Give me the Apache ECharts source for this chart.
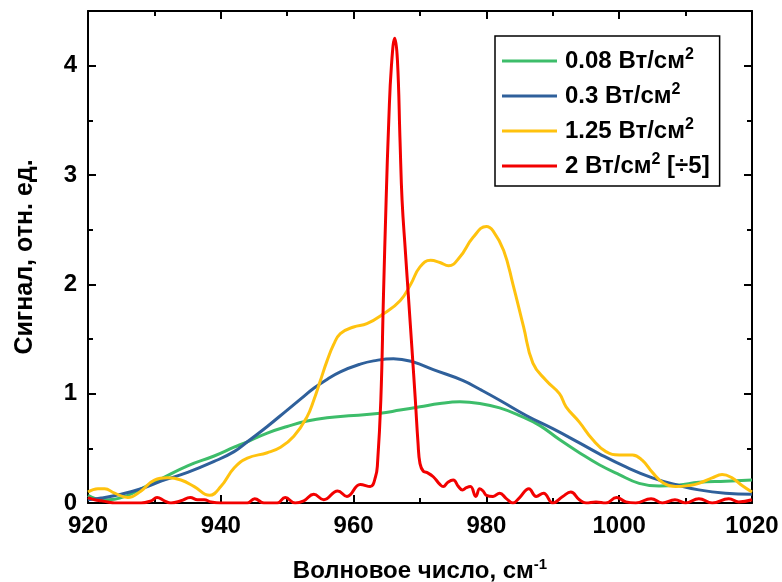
<!DOCTYPE html>
<html>
<head>
<meta charset="utf-8">
<script src="https://cdn.jsdelivr.net/npm/echarts@6/dist/echarts.min.js"></script>
<style>
html,body{margin:0;padding:0;background:#fff;}
#chart{width:782px;height:582px;}
</style>
</head>
<body>
<div id="chart"></div>
<script>
// ---- data ----
const seriesNames = ['0.08 Вт/см2', '0.3 Вт/см2', '1.25 Вт/см2', '2 Вт/см2 [÷5]'];
const xTicks = [920, 940, 960, 980, 1000, 1020];
const yTicks = [0, 1, 2, 3, 4];

const xGreen = [920, 922, 924, 926, 928, 931, 935, 939, 942, 944, 947, 950, 953, 956, 960, 964, 967, 970, 973, 976, 979, 982, 985, 988, 991, 994, 997, 1000, 1003, 1006, 1009, 1012, 1016, 1020];
const yGreen = [0.07, 0.03, 0.035, 0.07, 0.13, 0.22, 0.34, 0.43, 0.51, 0.56, 0.64, 0.70, 0.75, 0.78, 0.80, 0.82, 0.85, 0.88, 0.91, 0.925, 0.91, 0.87, 0.80, 0.71, 0.58, 0.46, 0.35, 0.26, 0.18, 0.155, 0.165, 0.19, 0.20, 0.21];

const xBlue = [920, 922, 925, 928, 931, 935, 939, 942, 944, 947, 950, 952, 954, 956, 958, 961, 963, 966, 969, 972, 976.5, 979, 982, 986, 990, 994, 997, 1001, 1005, 1009, 1012, 1016, 1020];
const yBlue = [0.03, 0.045, 0.08, 0.13, 0.20, 0.28, 0.38, 0.47, 0.56, 0.70, 0.85, 0.95, 1.05, 1.13, 1.20, 1.27, 1.30, 1.32, 1.29, 1.22, 1.12, 1.04, 0.94, 0.80, 0.68, 0.55, 0.45, 0.33, 0.23, 0.16, 0.12, 0.09, 0.08];

const xYellow = [920, 921.5, 922.5, 924, 926, 928, 930, 932, 934, 936, 938.3, 940, 942, 944, 947, 949, 951, 953, 954, 955, 956, 957, 958, 960, 962, 964.5, 967, 968.6, 970, 971.6, 973, 974.3, 976, 978, 980, 981, 982.6, 984, 985.6, 987, 989, 991, 992, 994, 996, 998, 1000, 1002, 1003.5, 1005, 1006.7, 1008.5, 1010.5, 1012, 1014, 1015.5, 1017, 1018.5, 1020];
const yYellow = [0.10, 0.13, 0.13, 0.09, 0.05, 0.11, 0.21, 0.23, 0.21, 0.15, 0.07, 0.15, 0.32, 0.41, 0.46, 0.51, 0.61, 0.79, 0.94, 1.12, 1.30, 1.45, 1.55, 1.61, 1.64, 1.73, 1.85, 2.00, 2.16, 2.22, 2.20, 2.17, 2.25, 2.43, 2.53, 2.49, 2.31, 2.00, 1.61, 1.28, 1.12, 1.00, 0.88, 0.74, 0.58, 0.47, 0.44, 0.44, 0.39, 0.28, 0.18, 0.15, 0.16, 0.18, 0.23, 0.26, 0.23, 0.16, 0.10];

const xRed = [920, 921, 922, 923, 924, 926, 928, 929.5, 930.4, 931.5, 932.5, 934, 935.4, 936.5, 937.5, 938.5, 940, 942, 944, 945.1, 946.5, 948.5, 949.7, 951.2, 952.5, 954, 955.5, 957.6, 959, 961, 962.5, 963.3, 963.6, 964.1, 964.5, 964.9, 965.3, 965.7, 966.2, 966.6, 967, 967.3, 967.8, 968.3, 968.8, 969.3, 969.7, 970, 970.5, 971, 972, 973, 973.5, 974.2, 975, 975.8, 976.4, 977, 977.6, 978.4, 979, 979.5, 980, 981, 982, 983, 984, 985, 986.4, 987.5, 988.6, 990, 991.5, 992.7, 994, 995, 996.5, 998, 999.6, 1001, 1002.5, 1004.8, 1006.5, 1008.4, 1010, 1012, 1014, 1016.5, 1018, 1020];
const yRed = [0.05, 0.03, 0.02, 0.01, 0.0, 0.0, 0.0, 0.02, 0.05, 0.02, 0.0, 0.02, 0.05, 0.03, 0.03, 0.01, 0.0, 0.0, 0.0, 0.04, 0.0, 0.0, 0.05, 0.0, 0.02, 0.08, 0.03, 0.11, 0.06, 0.17, 0.15, 0.24, 0.36, 0.94, 1.9, 2.77, 3.5, 4.0, 4.25, 4.05, 3.3, 2.77, 2.3, 1.85, 1.4, 0.94, 0.55, 0.36, 0.29, 0.28, 0.24, 0.17, 0.15, 0.19, 0.21, 0.15, 0.12, 0.14, 0.15, 0.06, 0.13, 0.11, 0.07, 0.06, 0.09, 0.04, 0.0, 0.05, 0.13, 0.06, 0.09, 0.0, 0.06, 0.10, 0.03, 0.0, 0.01, 0.0, 0.05, 0.01, 0.0, 0.04, 0.0, 0.03, 0.0, 0.04, 0.0, 0.04, 0.01, 0.03];

const colors = ['#3dbd6a', '#2f609b', '#ffc20e', '#f20000'];

// ---- build ----
const FONT = '"Liberation Sans", Arial, Helvetica, sans-serif';
function pairs(xs, ys) { return xs.map((x, i) => [x, ys[i]]); }
const xsAll = [xGreen, xBlue, xYellow, xRed];
const ysAll = [yGreen, yBlue, yYellow, yRed];

const series = seriesNames.map((name, i) => ({
  name: name,
  type: 'line',
  data: pairs(xsAll[i], ysAll[i]),
  smooth: 0.45,
  showSymbol: false,
  clip: true,
  xAxisIndex: 0,
  yAxisIndex: 0,
  lineStyle: { color: colors[i], width: 3 },
  itemStyle: { color: colors[i] },
  z: 2 + i
}));

const axisLineStyle = { show: true, onZero: false, lineStyle: { color: '#000', width: 2 } };
const supRich = {
  sup: { fontSize: 15, fontWeight: 'bold', fontFamily: FONT, color: '#000', verticalAlign: 'top', lineHeight: 14 }
};

const chart = echarts.init(document.getElementById('chart'), null, { renderer: 'canvas' });
chart.setOption({
  animation: false,
  backgroundColor: '#fff',
  color: colors,
  grid: { left: 88, right: 30, top: 11, bottom: 79, containLabel: false, outerBoundsMode: 'none' },
  legend: {
    orient: 'vertical',
    left: 495,
    top: 36,
    data: seriesNames,
    icon: 'rect',
    itemWidth: 55,
    itemHeight: 3,
    itemGap: 7,
    padding: [11, 10, 6, 7],
    borderColor: '#000',
    borderWidth: 1.5,
    backgroundColor: '#fff',
    formatter: name => name.replace('см2', 'см{sup|2}'),
    textStyle: {
      fontSize: 24, fontWeight: 'bold', fontFamily: FONT, color: '#000', lineHeight: 28,
      padding: [0, 0, 0, 3],
      rich: { sup: { fontSize: 16, fontWeight: 'bold', fontFamily: FONT, color: '#000', verticalAlign: 'top', lineHeight: 16 } }
    }
  },
  xAxis: [
    {
      type: 'value', position: 'bottom', min: xTicks[0], max: xTicks[xTicks.length - 1], interval: 20,
      axisLine: axisLineStyle,
      axisTick: { show: true, inside: true, length: 8, lineStyle: { color: '#000', width: 2 } },
      minorTick: { show: true, splitNumber: 2, length: 5, lineStyle: { color: '#000', width: 2 } },
      splitLine: { show: false },
      axisLabel: { show: true, margin: 11, fontSize: 24, fontWeight: 'bold', fontFamily: FONT, color: '#000',
        formatter: v => String(v) },
      name: 'Волновое число, см{sup|-1}',
      nameLocation: 'middle',
      nameGap: 54,
      nameTextStyle: { fontSize: 24, fontWeight: 'bold', fontFamily: FONT, color: '#000', lineHeight: 28, rich: supRich }
    },
    {
      type: 'value', position: 'top', min: xTicks[0], max: xTicks[xTicks.length - 1], interval: 20,
      axisLine: axisLineStyle,
      axisTick: { show: true, inside: true, length: 8, lineStyle: { color: '#000', width: 2 } },
      minorTick: { show: true, splitNumber: 2, length: 5, lineStyle: { color: '#000', width: 2 } },
      splitLine: { show: false },
      axisLabel: { show: false }
    }
  ],
  yAxis: [
    {
      type: 'value', position: 'left', min: 0, max: 4.5, interval: 1,
      axisLine: axisLineStyle,
      axisTick: { show: true, inside: true, length: 8, lineStyle: { color: '#000', width: 2 } },
      splitLine: { show: false },
      axisLabel: { show: true, margin: 11, fontSize: 24, fontWeight: 'bold', fontFamily: FONT, color: '#000',
        showMaxLabel: false, formatter: v => (yTicks.indexOf(v) >= 0 ? String(v) : '') },
      name: 'Сигнал, отн. ед.',
      nameLocation: 'middle',
      nameGap: 50,
      nameTextStyle: { fontSize: 25, fontWeight: 'bold', fontFamily: FONT, color: '#000' }
    },
    {
      type: 'value', position: 'left', min: 0, max: 4.5, interval: 0.5,
      axisLine: { show: false },
      axisTick: { show: true, inside: true, length: 5, lineStyle: { color: '#000', width: 2 } },
      splitLine: { show: false },
      axisLabel: { show: false }
    },
    {
      type: 'value', position: 'right', min: 0, max: 4.5, interval: 1,
      axisLine: axisLineStyle,
      axisTick: { show: true, inside: true, length: 8, lineStyle: { color: '#000', width: 2 } },
      splitLine: { show: false },
      axisLabel: { show: false }
    },
    {
      type: 'value', position: 'right', min: 0, max: 4.5, interval: 0.5,
      axisLine: { show: false },
      axisTick: { show: true, inside: true, length: 5, lineStyle: { color: '#000', width: 2 } },
      splitLine: { show: false },
      axisLabel: { show: false }
    }
  ],
  series: series
});
</script>
</body>
</html>
